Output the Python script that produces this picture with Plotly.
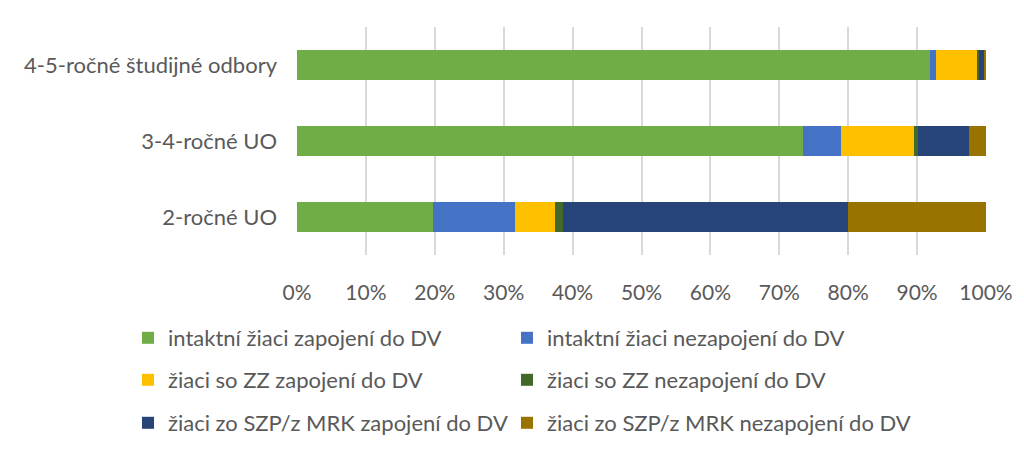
import plotly.graph_objects as go

categories = ["2-ročné UO", "3-4-ročné UO", "4-5-ročné študijné odbory"]

series_names = [
    "intaktní žiaci zapojení do DV",
    "intaktní žiaci nezapojení do DV",
    "žiaci so ZZ zapojení do DV",
    "žiaci so ZZ nezapojení do DV",
    "žiaci zo SZP/z MRK zapojení do DV",
    "žiaci zo SZP/z MRK nezapojení do DV",
]

intakt_zap = [19.8, 73.5, 91.8]
intakt_nezap = [11.8, 5.5, 1.0]
zz_zap = [5.9, 10.5, 5.85]
zz_nezap = [1.1, 0.7, 0.35]
szp_zap = [41.4, 7.3, 0.8]
szp_nezap = [20.0, 2.5, 0.2]

tick_vals = [0, 10, 20, 30, 40, 50, 60, 70, 80, 90, 100]
tick_text = ["0%", "10%", "20%", "30%", "40%", "50%", "60%", "70%", "80%", "90%", "100%"]

colors = ["#70AD47", "#4472C4", "#FFC000", "#43682B", "#264478", "#997300"]
series_values = [intakt_zap, intakt_nezap, zz_zap, zz_nezap, szp_zap, szp_nezap]

FONT = "Lato"
TXT = "#595959"
OFF = 8  # browser body margin

# plot area in page pixels
PL, PR, PT, PB = 297, 986, 27, 255
W, H = 1024, 460
pw, ph = PR - PL, PB - PT

# legend grid (page pixels): two columns, three rows
leg_cols = [128, 507]
leg_rows = [338, 380, 423]

fig = go.Figure()
legend_layout = {}
for i, (name, vals, col) in enumerate(zip(series_names, series_values, colors)):
    lid = "legend" if i == 0 else f"legend{i + 1}"
    fig.add_trace(go.Bar(
        y=categories, x=vals, name=name, orientation="h",
        marker=dict(color=col, line=dict(width=0)),
        legend=lid,
        hovertemplate="%{y}: %{x:.1f}%<extra>" + name + "</extra>",
    ))
    cx = leg_cols[i % 2]
    ry = leg_rows[i // 2]
    legend_layout[lid] = dict(
        orientation="h", xref="paper", yref="paper",
        x=(cx - PL) / pw, xanchor="left", y=(PB - ry) / ph, yanchor="middle",
        font=dict(family=FONT, size=22, color=TXT),
        itemwidth=30, bgcolor="rgba(0,0,0,0)", traceorder="normal",
    )

fig.update_layout(
    barmode="stack",
    bargap=0.6,
    width=W, height=H,
    margin=dict(l=PL - OFF, r=W + OFF - PR, t=PT - OFF, b=H + OFF - PB, autoexpand=False),
    paper_bgcolor="white", plot_bgcolor="white",
    font=dict(family=FONT, size=21, color=TXT),
    showlegend=True,
    xaxis=dict(
        range=[0, 100], tickvals=tick_vals, ticktext=tick_text,
        showgrid=True, gridcolor="#D9D9D9", gridwidth=1.5,
        zeroline=False, showline=False, ticks="",
        ticklabelstandoff=23,
        tickfont=dict(family=FONT, size=21, color=TXT),
        fixedrange=True,
    ),
    yaxis=dict(
        showgrid=False, zeroline=False, showline=False, ticks="",
        ticklabelstandoff=19,
        tickfont=dict(family=FONT, size=22, color=TXT),
        fixedrange=True,
    ),
    **legend_layout,
)

fig.write_html("out.html")
